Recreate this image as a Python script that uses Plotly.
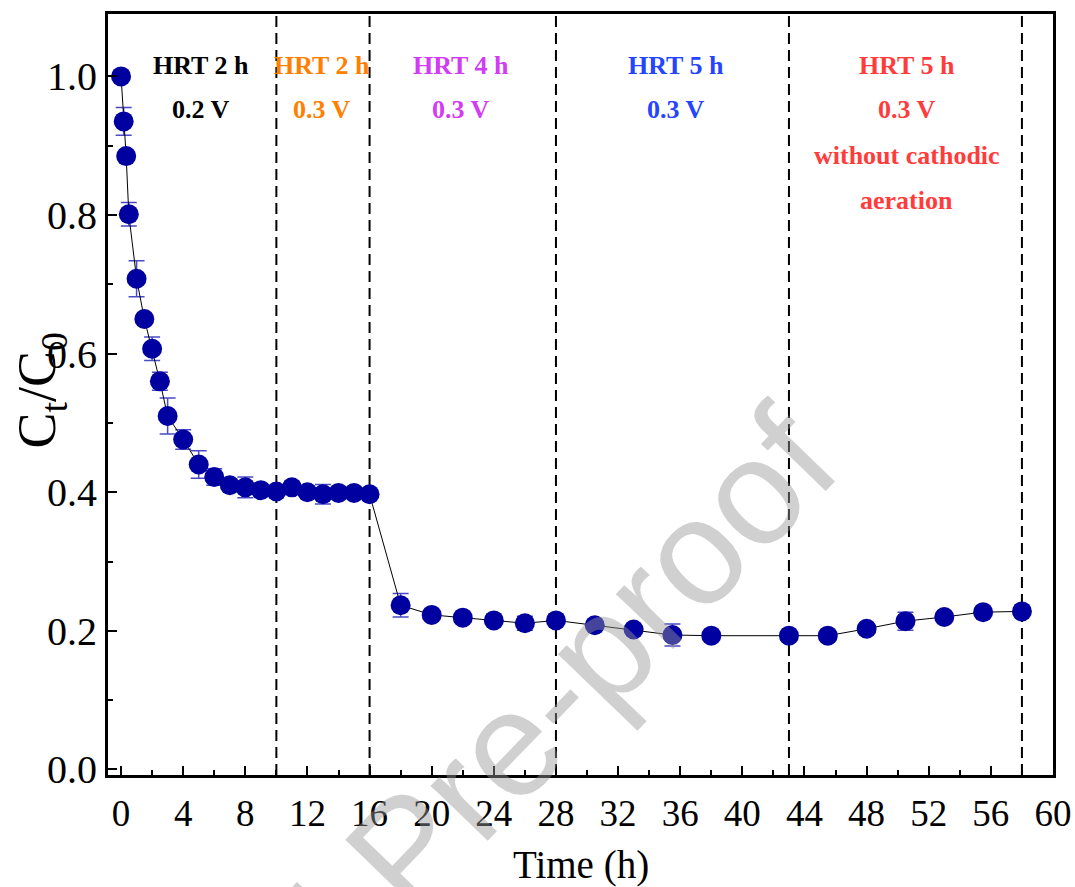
import plotly.graph_objects as go

# ---- data ----
time_h = [0, 0.17, 0.33, 0.5, 1, 1.5, 2, 2.5, 3, 4, 5, 6, 7, 8, 9, 10, 11, 12, 13, 14, 15, 16,
          18, 20, 22, 24, 26, 28, 30.5, 33, 35.5, 38, 43, 45.5, 48, 50.5, 53, 55.5, 58]
ct_c0 = [1.000, 0.935, 0.885, 0.801, 0.708, 0.650, 0.607, 0.560, 0.510, 0.476, 0.440, 0.422,
         0.410, 0.407, 0.403, 0.401, 0.407, 0.400, 0.397, 0.399, 0.399, 0.397,
         0.237, 0.223, 0.219, 0.215, 0.211, 0.215, 0.208, 0.202, 0.194, 0.193,
         0.193, 0.193, 0.203, 0.214, 0.220, 0.227, 0.228]
ct_err = [0.0, 0.020, 0.006, 0.017, 0.026, 0.005, 0.017, 0.013, 0.026, 0.014, 0.020, 0.012,
          0.005, 0.015, 0.005, 0.005, 0.005, 0.005, 0.014, 0.005, 0.005, 0.005,
          0.017, 0.005, 0.005, 0.005, 0.010, 0.005, 0.005, 0.005, 0.016, 0.005,
          0.005, 0.005, 0.005, 0.013, 0.005, 0.005, 0.005]

phase_bounds = [10, 16, 28, 43, 58]

x_ticks = list(range(0, 61, 4))
y_ticks = [0.0, 0.2, 0.4, 0.6, 0.8, 1.0]
y_tick_text = ["0.0", "0.2", "0.4", "0.6", "0.8", "1.0"]

# stage labels: (x, [lines], colour)
stage_x = [5.15, 12.95, 21.9, 35.7, 50.6]
stage_lines = [
    ["HRT 2 h", "0.2 V"],
    ["HRT 2 h", "0.3 V"],
    ["HRT 4 h", "0.3 V"],
    ["HRT 5 h", "0.3 V"],
    ["HRT 5 h", "0.3 V", "without cathodic", "aeration"],
]
stage_colors = ["#000000", "#FF8000", "#D23CF5", "#2444FF", "#FF3C3C"]
line_y = [1.016, 0.952, 0.886, 0.821]

SERIF = "Liberation Serif, Times New Roman, serif"

fig = go.Figure()

fig.add_trace(go.Scatter(
    x=time_h, y=ct_c0,
    mode="lines+markers",
    line=dict(color="black", width=1),
    marker=dict(color="#0000A0", size=20, line=dict(width=0)),
    error_y=dict(type="data", array=ct_err, color="#4A4AC8", thickness=1.5, width=8),
    showlegend=False,
))

shapes = []
for xb in phase_bounds:
    shapes.append(dict(type="line", xref="x", yref="paper", x0=xb, x1=xb, y0=0, y1=1,
                       line=dict(color="black", width=2, dash="11px,6px"), layer="below"))

annotations = []
for sx, lines, col in zip(stage_x, stage_lines, stage_colors):
    for i, t in enumerate(lines):
        annotations.append(dict(x=sx, y=line_y[i], xref="x", yref="y", text=f"<b>{t}</b>",
                                showarrow=False, font=dict(family=SERIF, size=26, color=col),
                                xanchor="center", yanchor="middle"))

# axis titles
annotations.append(dict(x=0.5, y=-0.118, xref="paper", yref="paper", text="Time (h)",
                        showarrow=False, font=dict(family=SERIF, size=39, color="black"),
                        xanchor="center", yanchor="middle"))
annotations.append(dict(x=-0.071, y=0.505, xref="paper", yref="paper",
                        text="C<sub>t</sub>/C<sub>0</sub>", textangle=-90,
                        showarrow=False, font=dict(family=SERIF, size=54, color="black"),
                        xanchor="center", yanchor="middle"))

# watermark
annotations.append(dict(x=0.315, y=-0.10, xref="paper", yref="paper", text="Journal Pre-proof",
                        textangle=-46, showarrow=False,
                        font=dict(family="Liberation Sans, Arial, sans-serif", size=150,
                                  color="rgba(150,150,150,0.45)"),
                        xanchor="center", yanchor="middle"))

fig.update_layout(
    width=1075, height=887,
    margin=dict(l=108, r=22, t=14, b=112, autoexpand=False),
    paper_bgcolor="white", plot_bgcolor="white",
    shapes=shapes, annotations=annotations,
    xaxis=dict(range=[-0.84, 60], tickvals=x_ticks, ticks="inside", ticklen=9, tickwidth=2,
               tickcolor="black", showline=True, linecolor="black", linewidth=3, mirror=True,
               showgrid=False, zeroline=False, ticklabelstandoff=4, automargin=False,
               tickfont=dict(family=SERIF, size=37, color="black"),
               minor=dict(dtick=2, tick0=0, ticks="inside", ticklen=5, tickwidth=2, tickcolor="black")),
    yaxis=dict(range=[-0.008, 1.09], tickvals=y_ticks, ticktext=y_tick_text, ticks="inside",
               ticklen=9, tickwidth=2, tickcolor="black", showline=True, linecolor="black",
               linewidth=3, mirror=True, showgrid=False, zeroline=False, automargin=False,
               tickfont=dict(family=SERIF, size=40, color="black"),
               minor=dict(dtick=0.1, tick0=0, ticks="inside", ticklen=5, tickwidth=2, tickcolor="black")),
)

fig.write_html("out.html", config={"displayModeBar": False},
               post_script="document.body.style.margin='0px';")
